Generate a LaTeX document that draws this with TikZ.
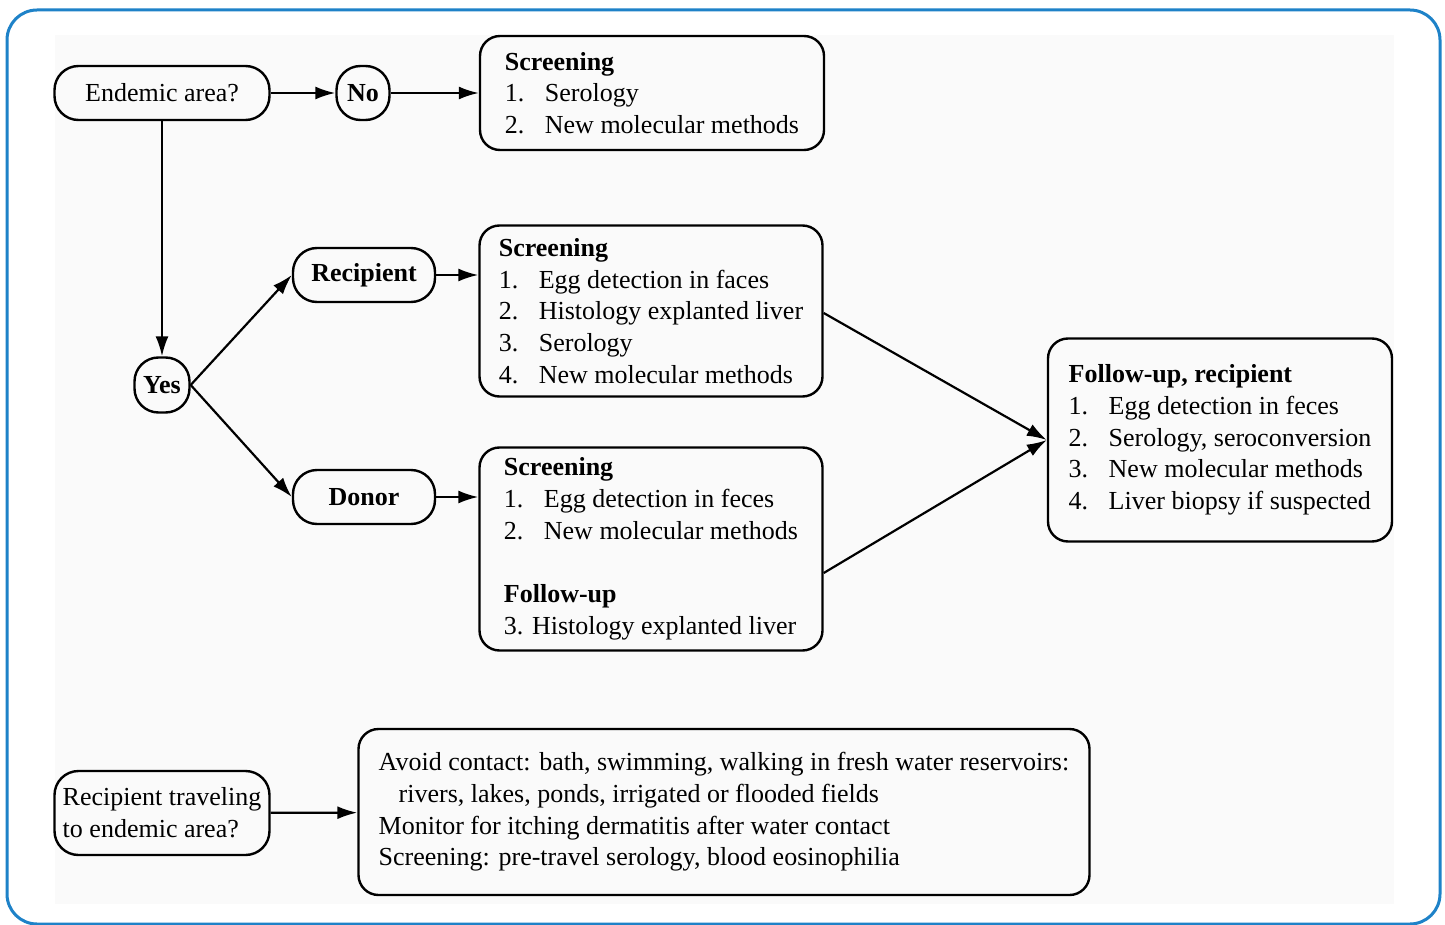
\documentclass[tikz,border=0pt]{standalone}
\usepackage{fontspec}
\setmainfont{Liberation Serif}
\usetikzlibrary{arrows.meta}

\newcommand{\itm}[1]{\makebox[20pt][l]{#1}}

\begin{document}
\begin{tikzpicture}[x = 0.5pt, y = -0.5pt,
		every node/.style = {font = \fontsize{13pt}{15.85pt}\selectfont},
		pill/.style = {draw, line width = 1.2pt, rounded corners = 12pt, inner xsep = 2pt, inner ysep = 2pt, align = center, minimum height = 27pt},
		listbox/.style = {draw, line width = 1.2pt, rounded corners = 10pt, inner xsep = 2pt, inner ysep = 2pt, align = left},
		arr/.style = {-{Latex[length = 10pt, width = 6.5pt]}, line width = 1.1pt}]
			\useasboundingbox (0, 0) rectangle (1445, 925);
			\fill[white] (0, 0) rectangle (1445, 925);
			\draw[line width = 1.5pt, color = {rgb,255:red,30;green,130;blue,200}, rounded corners = 15pt] (7, 10) rectangle (1440, 924);
			\fill[black!2] (55, 35) rectangle (1394, 904);
			% questions and answers
			\node[pill, minimum width = 107.5pt] (endemic) at (162, 93) {Endemic area?};
			\node[pill, minimum width = 26.5pt, font = \fontsize{13pt}{15.85pt}\selectfont\bfseries] (no) at (363, 93) {No};
			\node[pill, minimum width = 27.5pt, minimum height = 27.5pt, font = \fontsize{13pt}{15.85pt}\selectfont\bfseries] (yes) at (162, 385) {Yes};
			\node[pill, minimum width = 71pt, font = \fontsize{13pt}{15.85pt}\selectfont\bfseries] (rec) at (364, 275) {Recipient};
			\node[pill, minimum width = 71pt, font = \fontsize{13pt}{15.85pt}\selectfont\bfseries] (donor) at (364, 497) {Donor};
			\node[pill, minimum width = 107.5pt, minimum height = 42pt, inner xsep = 1pt, align = left] (travel) at (162, 813) {Recipient traveling\\to endemic area?};
			% screening boxes
			\node[listbox, minimum width = 172pt, minimum height = 57pt] (scrno) at (652, 93)
				{\textbf{Screening}\\\itm{1.}Serology\\\itm{2.}New molecular methods};
			\node[listbox, minimum width = 171.5pt, minimum height = 85.5pt] (scrrec) at (651, 311)
				{\textbf{Screening}\\\itm{1.}Egg detection in faces\\\itm{2.}Histology explanted liver\\\itm{3.}Serology\\\itm{4.}New molecular methods};
			\node[listbox, minimum width = 171.5pt, minimum height = 101.5pt] (scrdon) at (651, 549)
				{\textbf{Screening}\\\itm{1.}Egg detection in feces\\\itm{2.}New molecular methods\\[15.85pt]\textbf{Follow-up}\\3. Histology explanted liver};
			\node[listbox, minimum width = 172pt, minimum height = 101.5pt] (follow) at (1220, 440)
				{\textbf{Follow-up, recipient}\\\itm{1.}Egg detection in feces\\\itm{2.}Serology, seroconversion\\\itm{3.}New molecular methods\\\itm{4.}Liver biopsy if suspected};
			\node[listbox, minimum width = 365.5pt, minimum height = 83pt] (avoid) at (724, 812)
				{Avoid contact: bath, swimming, walking in fresh water reservoirs:\\\hspace{10pt}rivers, lakes, ponds, irrigated or flooded fields\\Monitor for itching dermatitis after water contact\\Screening: pre-travel serology, blood eosinophilia};
			% connectors
			\draw[arr] (endemic) -- (no);
			\draw[arr] (no) -- (scrno);
			\draw[arr] (endemic) -- (yes);
			\draw[arr] (yes.east) -- (rec.west);
			\draw[arr] (yes.east) -- (donor.west);
			\draw[arr] (rec) -- (scrrec.west |- rec);
			\draw[arr] (donor) -- (scrdon.west |- donor);
			\draw[arr] ([yshift = -1pt]scrrec.east) -- (follow.west);
			\draw[arr] ([yshift = -12pt]scrdon.east) -- (follow.west);
			\draw[arr] (travel) -- (avoid);
		\end{tikzpicture}
\end{document}
